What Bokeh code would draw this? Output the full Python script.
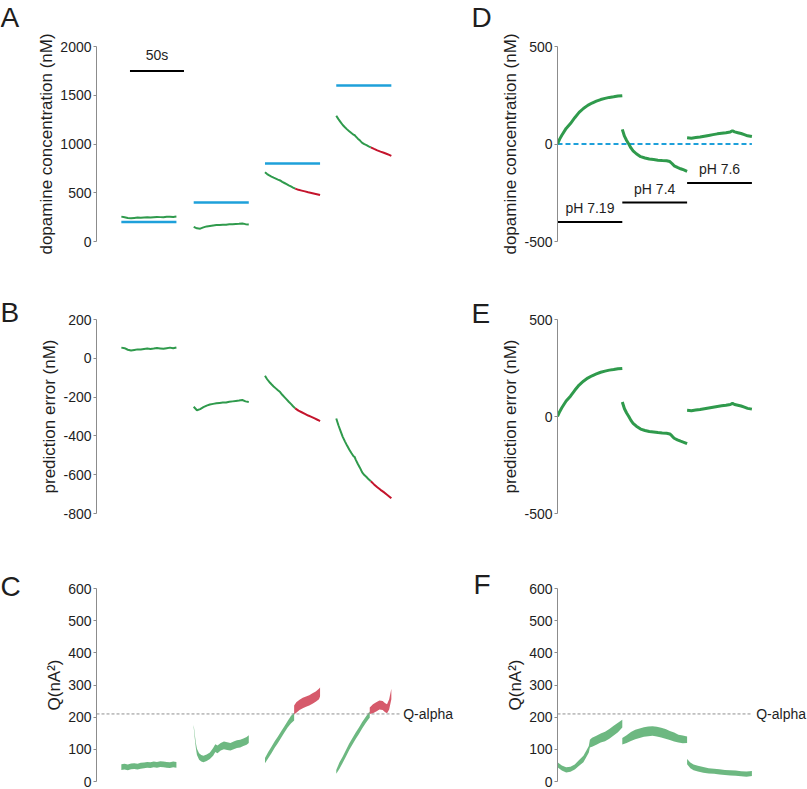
from bokeh.plotting import figure
from bokeh.layouts import row, column
from bokeh.models import Range1d, Label, FixedTicker
from bokeh.embed import file_html
from bokeh.resources import INLINE

GREEN = "#2f9a4c"
RED = "#c4142c"
BLUE = "#1ea0da"
AXIS = "#8c8c8c"
TXT = "#1e1e1e"
FONT = "Liberation Sans"

# ---------------- data: panels A, B, C (four 50 s recordings) ----------------
seg_start_L = [23, 90, 156, 222]          # s
expected = [200, 400, 800, 1600]          # nM (blue lines)
seg_len_L = 51
scale_bar = [31, 81]                      # 50 s bar
scale_bar_y = 1750

tA = [0, 3, 6, 9, 12, 15, 18, 21, 24, 27, 30, 33, 36, 39, 42, 45, 48, 51]
a1 = [255, 248, 241, 238, 242, 245, 243, 246, 248, 245, 249, 252, 250, 248, 253, 255, 252, 256]
a2 = [150, 135, 132, 145, 155, 160, 165, 168, 170, 172, 172, 176, 178, 180, 182, 185, 178, 175]
t3g = [0, 2, 4, 6, 8, 10, 12, 14, 16, 18, 20, 22, 24, 26, 28]
a3g = [710, 692, 678, 666, 655, 645, 635, 626, 612, 600, 588, 576, 565, 553, 542]
t3r = [28, 31, 34, 37, 40, 43, 46, 49, 51]
a3r = [542, 530, 522, 514, 505, 498, 490, 482, 476]
t4g = [0, 2, 4, 6, 8, 10, 12, 14, 16, 17, 18, 20, 22, 24, 26, 28, 30, 32]
a4g = [1290, 1255, 1225, 1195, 1172, 1150, 1130, 1112, 1095, 1092, 1078, 1055, 1035, 1012, 998, 988, 976, 966]
t4r = [32, 35, 38, 41, 44, 47, 49, 51]
a4r = [966, 950, 935, 922, 910, 897, 888, 878]

b1 = [55, 52, 44, 40, 43, 46, 45, 48, 50, 48, 50, 53, 51, 49, 52, 55, 52, 56]
b2 = [-250, -268, -262, -252, -244, -238, -235, -232, -230, -228, -228, -224, -222, -220, -218, -215, -222, -225]
b3g = [-90, -108, -122, -134, -145, -155, -165, -174, -188, -200, -212, -224, -235, -247, -258]
b3r = [-258, -270, -278, -286, -295, -302, -310, -318, -324]
b4g = [-310, -345, -375, -405, -428, -450, -470, -488, -505, -508, -522, -545, -565, -588, -602, -612, -624, -634]
b4r = [-634, -650, -665, -678, -690, -703, -712, -722]

q_alpha = 210

c1 = [45, 46, 44, 47, 48, 46, 49, 50, 52, 51, 53, 52, 54, 53, 52, 51, 53, 52]
c1_s = [9] * 18
c2_t = [0, 1, 2, 3, 5, 7, 9, 12, 15, 18, 20, 22, 25, 28, 31, 34, 37, 40, 43, 46, 49, 51]
c2 = [172, 140, 112, 92, 78, 72, 70, 74, 80, 92, 104, 100, 108, 112, 110, 108, 112, 116, 118, 122, 126, 132]
c2_s = [4, 6, 8, 10, 10, 10, 10, 10, 10, 12, 12, 12, 12, 12, 12, 12, 12, 12, 12, 12, 12, 12]
c3g_t = [0, 3, 6, 9, 12, 15, 18, 21, 24, 27]
c3g = [65, 82, 98, 115, 130, 146, 162, 178, 192, 202]
c3g_s = [8, 10, 10, 10, 10, 10, 10, 10, 12, 12]
c3r_t = [27, 29, 32, 35, 38, 41, 44, 47, 50, 51]
c3r = [222, 230, 238, 244, 248, 252, 258, 264, 272, 278]
c3r_s = [14, 16, 16, 16, 16, 16, 16, 16, 16, 14]
c4g_t = [0, 3, 6, 9, 12, 15, 18, 21, 24, 27, 30, 31]
c4g = [30, 50, 68, 88, 108, 125, 142, 158, 175, 190, 204, 208]
c4g_s = [6, 10, 10, 10, 10, 10, 10, 10, 10, 10, 10, 10]
c4r_t = [31, 34, 37, 40, 43, 45, 47, 49, 51]
c4r = [220, 226, 232, 238, 236, 230, 226, 240, 272]
c4r_s = [10, 14, 14, 14, 14, 14, 14, 16, 16]

# ---------------- data: panels D, E, F (three pH steps) ----------------
seg_start_R = [0, 60, 120]
seg_len_R = 60
ph_labels = ["pH 7.19", "pH 7.4", "pH 7.6"]
ph_bar_y = [-400, -300, -200]

d1_t = [0, 2, 4, 8, 12, 16, 20, 24, 28, 32, 36, 40, 44, 48, 52, 56, 60]
d1 = [0, 25, 45, 80, 105, 135, 162, 182, 198, 210, 220, 228, 234, 239, 242, 246, 248]
d2_t = [0, 2, 4, 6, 8, 10, 13, 17, 21, 25, 29, 33, 37, 41, 44, 46, 48, 51, 54, 57, 60]
d2 = [75, 40, 18, 0, -20, -35, -50, -65, -72, -77, -80, -83, -85, -86, -90, -100, -112, -120, -127, -133, -140]
d3_t = [0, 4, 8, 12, 16, 20, 24, 28, 32, 36, 40, 42, 44, 47, 50, 53, 56, 60]
d3 = [32, 30, 33, 36, 40, 44, 48, 52, 55, 58, 62, 68, 62, 58, 54, 48, 42, 38]

e1, e2, e3 = d1, d2, d3

f1_t = [0, 4, 8, 12, 16, 20, 24, 27, 29, 30, 32, 36, 40, 44, 48, 52, 56, 60]
f1 = [52, 42, 36, 38, 45, 58, 70, 88, 100, 118, 122, 128, 135, 140, 148, 158, 168, 180]
f1_s = [8, 8, 8, 8, 8, 9, 10, 10, 10, 12, 14, 14, 14, 15, 15, 15, 15, 12]
f2_t = [0, 4, 8, 12, 16, 20, 24, 28, 32, 36, 40, 44, 48, 52, 56, 60]
f2 = [125, 132, 140, 146, 150, 154, 156, 157, 155, 152, 148, 143, 138, 133, 131, 130]
f2_s = [10, 12, 14, 15, 15, 15, 15, 15, 15, 15, 15, 14, 14, 12, 12, 10]
f3_t = [0, 3, 6, 10, 15, 20, 25, 30, 35, 40, 45, 50, 55, 60]
f3 = [62, 50, 44, 40, 36, 33, 32, 30, 28, 27, 26, 24, 23, 25]
f3_s = [8, 9, 9, 9, 9, 8, 8, 8, 8, 8, 8, 8, 8, 8]

# panel letters: (text, x, baseline y) in pixels within the letter strips
letters_left = [("A", 0, 17), ("B", 0, 312), ("C", 0, 586)]
letters_right = [("D", 11, 17), ("E", 11, 313), ("F", 13, 584)]

# ---------------- layout ----------------
LW_L, LW_R = 26, 36            # letter strips
WL, WR = 434, 311              # panel figures
BL_L, BL_R = 70, 61
BR_L, BR_R = 2, 0
PX_PER_S = 1.08
XL_END = (WL - BL_L - BR_L) / PX_PER_S
XR_END = (WR - BL_R - BR_R) / PX_PER_S
ROWS = [dict(h=266, bt=46, bb=25), dict(h=258, bt=53, bb=11), dict(h=265, bt=64, bb=8)]
TOTAL_H = sum(r["h"] for r in ROWS)


def make_fig(col, rw, y0, y1, ticks, ylabel):
    w = WL if col == 0 else WR
    bl = BL_L if col == 0 else BL_R
    br = BR_L if col == 0 else BR_R
    xend = XL_END if col == 0 else XR_END
    r = ROWS[rw]
    p = figure(width=w, height=r["h"], x_range=Range1d(0, xend), y_range=Range1d(y0, y1),
               output_backend="svg", toolbar_location=None, x_axis_location=None,
               min_border_left=bl, min_border_right=br, min_border_top=r["bt"],
               min_border_bottom=r["bb"])
    p.outline_line_color = None
    p.grid.visible = False
    ax = p.yaxis[0]
    ax.ticker = FixedTicker(ticks=ticks)
    ax.major_label_overrides = {t: str(t) for t in ticks}
    ax.axis_line_color = AXIS
    ax.major_tick_line_color = AXIS
    ax.major_tick_out = 3
    ax.major_tick_in = 0
    ax.minor_tick_line_color = None
    ax.major_label_text_font = FONT
    ax.major_label_text_font_size = "14px"
    ax.major_label_text_color = TXT
    ax.major_label_standoff = 2
    ax.axis_label = ylabel
    ax.axis_label_text_font = FONT
    ax.axis_label_text_font_size = "17px"
    ax.axis_label_text_font_style = "normal"
    ax.axis_label_text_color = TXT
    ax.axis_label_standoff = 1
    return p


def letter_strip(width, letters):
    p = figure(width=width, height=TOTAL_H, x_range=Range1d(0, width),
               y_range=Range1d(TOTAL_H, 0), output_backend="svg", toolbar_location=None,
               x_axis_location=None, y_axis_location=None, min_border=0)
    p.outline_line_color = None
    p.grid.visible = False
    for txt, x, y in letters:
        p.add_layout(Label(x=x, y=y, text=txt, text_font=FONT, text_font_size="28px",
                           text_color=TXT, text_baseline="alphabetic"))
    return p


def shift(start, ts):
    return [start + t for t in ts]


# ---- A ----
pA = make_fig(0, 0, 0, 2000, [0, 500, 1000, 1500, 2000], "dopamine concentration (nM)")
for s, e in zip(seg_start_L, expected):
    pA.line([s, s + seg_len_L], [e, e], line_color=BLUE, line_width=2.5)
for s, t, v in [(seg_start_L[0], tA, a1), (seg_start_L[1], tA, a2),
                (seg_start_L[2], t3g, a3g), (seg_start_L[3], t4g, a4g)]:
    pA.line(shift(s, t), v, line_color=GREEN, line_width=2)
for s, t, v in [(seg_start_L[2], t3r, a3r), (seg_start_L[3], t4r, a4r)]:
    pA.line(shift(s, t), v, line_color=RED, line_width=2)
pA.line(scale_bar, [scale_bar_y, scale_bar_y], line_color="black", line_width=2)
pA.add_layout(Label(x=sum(scale_bar) / 2, y=scale_bar_y, y_offset=8, text="50s",
                    text_align="center", text_font=FONT, text_font_size="14px",
                    text_color=TXT))

# ---- B ----
pB = make_fig(0, 1, -800, 200, [-800, -600, -400, -200, 0, 200], "prediction error (nM)")
for s, t, v in [(seg_start_L[0], tA, b1), (seg_start_L[1], tA, b2),
                (seg_start_L[2], t3g, b3g), (seg_start_L[3], t4g, b4g)]:
    pB.line(shift(s, t), v, line_color=GREEN, line_width=2)
for s, t, v in [(seg_start_L[2], t3r, b3r), (seg_start_L[3], t4r, b4r)]:
    pB.line(shift(s, t), v, line_color=RED, line_width=2)

# ---- C ----
pC = make_fig(0, 2, 0, 600, [0, 100, 200, 300, 400, 500, 600], "Q(nA²)")
for s, t, c, sp, col in [(seg_start_L[0], tA, c1, c1_s, GREEN),
                         (seg_start_L[1], c2_t, c2, c2_s, GREEN),
                         (seg_start_L[2], c3g_t, c3g, c3g_s, GREEN),
                         (seg_start_L[2], c3r_t, c3r, c3r_s, RED),
                         (seg_start_L[3], c4g_t, c4g, c4g_s, GREEN),
                         (seg_start_L[3], c4r_t, c4r, c4r_s, RED)]:
    pC.varea(x=shift(s, t), y1=[a - b for a, b in zip(c, sp)], y2=[a + b for a, b in zip(c, sp)],
             fill_color=col, fill_alpha=0.7)
pC.line([0, 281], [q_alpha, q_alpha], line_color="#8f8f8f", line_width=1, line_dash="3 2")
pC.add_layout(Label(x=284, y=q_alpha, text="Q-alpha", text_baseline="middle",
                    text_font=FONT, text_font_size="14px", text_color=TXT))

# ---- D ----
pD = make_fig(1, 0, -500, 500, [-500, 0, 500], "dopamine concentration (nM)")
pD.line([0, seg_start_R[2] + seg_len_R], [0, 0], line_color=BLUE, line_width=2, line_dash="5 3")
for s, t, v in zip(seg_start_R, [d1_t, d2_t, d3_t], [d1, d2, d3]):
    pD.line(shift(s, t), v, line_color=GREEN, line_width=3)
for s, lab, yb in zip(seg_start_R, ph_labels, ph_bar_y):
    pD.line([s, s + seg_len_R], [yb, yb], line_color="black", line_width=2)
    pD.add_layout(Label(x=s + seg_len_R / 2, y=yb, y_offset=6, text=lab, text_align="center",
                        text_font=FONT, text_font_size="14px", text_color=TXT))

# ---- E ----
pE = make_fig(1, 1, -500, 500, [-500, 0, 500], "prediction error (nM)")
for s, t, v in zip(seg_start_R, [d1_t, d2_t, d3_t], [e1, e2, e3]):
    pE.line(shift(s, t), v, line_color=GREEN, line_width=3)

# ---- F ----
pF = make_fig(1, 2, 0, 600, [0, 100, 200, 300, 400, 500, 600], "Q(nA²)")
for s, t, c, sp in zip(seg_start_R, [f1_t, f2_t, f3_t], [f1, f2, f3], [f1_s, f2_s, f3_s]):
    pF.varea(x=shift(s, t), y1=[a - b for a, b in zip(c, sp)], y2=[a + b for a, b in zip(c, sp)],
             fill_color=GREEN, fill_alpha=0.7)
pF.line([0, 179], [q_alpha, q_alpha], line_color="#8f8f8f", line_width=1, line_dash="3 2")
pF.add_layout(Label(x=184, y=q_alpha, text="Q-alpha", text_baseline="middle",
                    text_font=FONT, text_font_size="14px", text_color=TXT))

layout = row(letter_strip(LW_L, letters_left), column(pA, pB, pC),
             letter_strip(LW_R, letters_right), column(pD, pE, pF))

open("out.html", "w").write(file_html(layout, INLINE))
